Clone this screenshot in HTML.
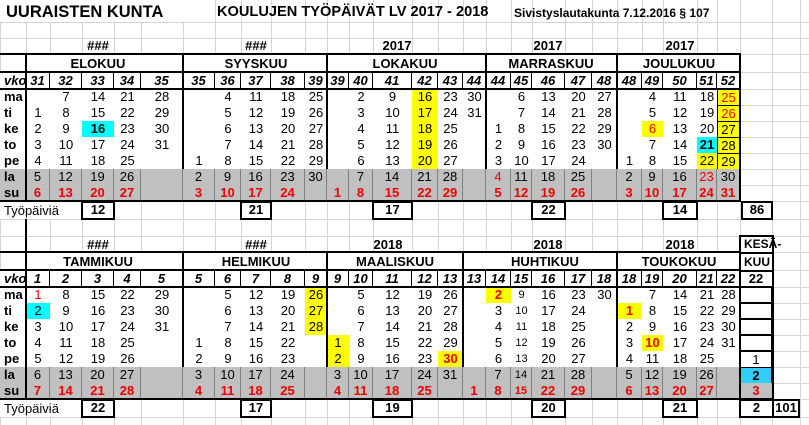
<!DOCTYPE html>
<html><head><meta charset="utf-8"><style>
body{margin:0;width:809px;height:425px;overflow:hidden;background:#fff;font-family:"Liberation Sans",Arial,sans-serif;position:relative}
.a{position:absolute}
.r{position:absolute;left:0;display:grid;grid-template-columns:26px 24px 32px 32px 27px 42px 32px 26px 30px 34px 22px 22px 24px 39px 26px 25px 23px 25px 21px 33px 27px 25px 25px 21px 34px 20px 23px 32px 28px;height:16px;line-height:16px;font-size:13px}
.r span{text-align:center;background:#fff;box-sizing:border-box}
.r span:first-child{text-align:left;padding-left:4px;font-weight:bold}
.r span:nth-child(28),.r span:nth-child(29){background:transparent}
.g span{background:#c0c0c0;border-right:1px solid #808080}
.g span:nth-child(28),.g span:nth-child(29){border:none}
.v{height:17px;line-height:17px;font-weight:bold;font-style:italic}
.v span{border-right:1px solid #000}
.v span:nth-child(28),.v span:nth-child(29){border:none}
.r .y{background:#ff0}.r .c{background:#0ff;font-weight:bold}.r .yb{background:#ff0;border:1px solid #000}
.rd{color:#e00}.b{font-weight:bold}.s{font-size:11px}
.su span{color:#e00;font-weight:bold}
.r .jb{background:#33ccff!important;border:1px solid #000!important}
.r .jw{background:#fff!important;border:1px solid #000}
.r .jg{background:#c0c0c0!important;border:1px solid #808080}
.h{position:absolute;width:140px;text-align:center;font-weight:bold;font-size:13px}
.k{position:absolute;border:2px solid #000;box-sizing:border-box;text-align:center;font-weight:bold;font-size:13px;line-height:14px;background:#fff}
.L{position:absolute;background:#000}
</style></head><body>
<svg class="a" style="left:0;top:0" width="809" height="425">
<g stroke="#d4d4d4" stroke-width="1">
<path d="M0.5 0V425M26.5 0V425M50.5 0V425M82.5 0V425M114.5 0V425M141.5 0V425M183.5 0V425M215.5 0V425M241.5 0V425M271.5 0V425M305.5 0V425M327.5 0V425M349.5 0V425M373.5 0V425M412.5 0V425M438.5 0V425M463.5 0V425M486.5 0V425M511.5 0V425M532.5 0V425M565.5 0V425M592.5 0V425M617.5 0V425M642.5 0V425M663.5 0V425M697.5 0V425M717.5 0V425M740.5 0V425M772.5 0V425M800.5 0V425"/>
<path d="M0 22.5H809M0 38.5H809M0 54.5H809M0 72.5H809M0 89.5H809M0 105.5H809M0 121.5H809M0 137.5H809M0 153.5H809M0 169.5H809M0 185.5H809M0 201.5H809M0 219.5H809M0 236.5H809M0 252.5H809M0 270.5H809M0 287.5H809M0 303.5H809M0 319.5H809M0 335.5H809M0 351.5H809M0 367.5H809M0 383.5H809M0 399.5H809M0 417.5H809"/>
</g></svg>
<div class="a" style="left:0;top:0;width:210px;height:22px;background:#fff"></div>
<div class="a" style="left:6px;top:3px;font-size:16.5px;font-weight:bold">UURAISTEN KUNTA</div>
<div class="a" style="left:217px;top:4px;font-size:14.6px;font-weight:bold">KOULUJEN TYÖPÄIVÄT LV 2017 - 2018</div>
<div class="a" style="left:514px;top:6px;font-size:12px;font-weight:bold">Sivistyslautakunta 7.12.2016 § 107</div>

<!-- TOP -->
<div class="h" style="left:28px;top:38px">###</div><div class="h" style="left:186px;top:38px">###</div><div class="h" style="left:327px;top:38px">2017</div><div class="h" style="left:478px;top:38px">2017</div><div class="h" style="left:610px;top:38px">2017</div>
<div class="a" style="left:26px;top:54px;width:714px;height:18px;background:#fff"></div>
<div class="h" style="left:28px;top:56px">ELOKUU</div><div class="h" style="left:186px;top:56px">SYYSKUU</div><div class="h" style="left:335px;top:56px">LOKAKUU</div><div class="h" style="left:481px;top:56px">MARRASKUU</div><div class="h" style="left:609px;top:56px">JOULUKUU</div>
<div class="r v" style="top:72px"><span>vko</span><span>31</span><span>32</span><span>33</span><span>34</span><span>35</span><span>35</span><span>36</span><span>37</span><span>38</span><span>39</span><span>39</span><span>40</span><span>41</span><span>42</span><span>43</span><span>44</span><span>44</span><span>45</span><span>46</span><span>47</span><span>48</span><span>48</span><span>49</span><span>50</span><span>51</span><span>52</span><span></span><span></span></div>
<div class="r" style="top:89px"><span>ma</span><span></span><span>7</span><span>14</span><span>21</span><span>28</span><span></span><span>4</span><span>11</span><span>18</span><span>25</span><span></span><span>2</span><span>9</span><span class="y">16</span><span>23</span><span>30</span><span></span><span>6</span><span>13</span><span>20</span><span>27</span><span></span><span>4</span><span>11</span><span>18</span><span class="yb rd">25</span><span></span><span></span></div>
<div class="r" style="top:105px"><span>ti</span><span>1</span><span>8</span><span>15</span><span>22</span><span>29</span><span></span><span>5</span><span>12</span><span>19</span><span>26</span><span></span><span>3</span><span>10</span><span class="y">17</span><span>24</span><span>31</span><span></span><span>7</span><span>14</span><span>21</span><span>28</span><span></span><span>5</span><span>12</span><span>19</span><span class="yb rd">26</span><span></span><span></span></div>
<div class="r" style="top:121px"><span>ke</span><span>2</span><span>9</span><span class="c">16</span><span>23</span><span>30</span><span></span><span>6</span><span>13</span><span>20</span><span>27</span><span></span><span>4</span><span>11</span><span class="y">18</span><span>25</span><span></span><span>1</span><span>8</span><span>15</span><span>22</span><span>29</span><span></span><span class="y rd">6</span><span>13</span><span>20</span><span class="yb">27</span><span></span><span></span></div>
<div class="r" style="top:137px"><span>to</span><span>3</span><span>10</span><span>17</span><span>24</span><span>31</span><span></span><span>7</span><span>14</span><span>21</span><span>28</span><span></span><span>5</span><span>12</span><span class="y">19</span><span>26</span><span></span><span>2</span><span>9</span><span>16</span><span>23</span><span>30</span><span></span><span>7</span><span>14</span><span class="c">21</span><span class="yb">28</span><span></span><span></span></div>
<div class="r" style="top:153px"><span>pe</span><span>4</span><span>11</span><span>18</span><span>25</span><span></span><span>1</span><span>8</span><span>15</span><span>22</span><span>29</span><span></span><span>6</span><span>13</span><span class="y">20</span><span>27</span><span></span><span>3</span><span>10</span><span>17</span><span>24</span><span></span><span>1</span><span>8</span><span>15</span><span class="y">22</span><span class="yb">29</span><span></span><span></span></div>
<div class="r g" style="top:169px"><span>la</span><span>5</span><span>12</span><span>19</span><span>26</span><span></span><span>2</span><span>9</span><span>16</span><span>23</span><span>30</span><span></span><span>7</span><span>14</span><span>21</span><span>28</span><span></span><span class="rd">4</span><span>11</span><span>18</span><span>25</span><span></span><span>2</span><span>9</span><span>16</span><span class="rd">23</span><span>30</span><span></span><span></span></div>
<div class="r g su" style="top:185px"><span style="color:#000">su</span><span>6</span><span>13</span><span>20</span><span>27</span><span></span><span>3</span><span>10</span><span>17</span><span>24</span><span></span><span>1</span><span>8</span><span>15</span><span>22</span><span>29</span><span></span><span>5</span><span>12</span><span>19</span><span>26</span><span></span><span>3</span><span>10</span><span>17</span><span>24</span><span>31</span><span></span><span></span></div>
<div class="a" style="left:0;top:202px;width:80px;height:17px;background:#fff"></div>
<div class="a" style="left:4px;top:203px;font-size:13px">Työpäiviä</div>
<div class="k" style="left:81px;top:201px;width:34px;height:19px">12</div>
<div class="k" style="left:240px;top:201px;width:32px;height:19px">21</div>
<div class="k" style="left:372px;top:201px;width:41px;height:19px">17</div>
<div class="k" style="left:531px;top:201px;width:35px;height:19px">22</div>
<div class="k" style="left:662px;top:201px;width:36px;height:19px">14</div>
<div class="k" style="left:741px;top:201px;width:32px;height:19px">86</div>
<div class="L" style="left:0;top:53px;width:741px;height:2px"></div>
<div class="L" style="left:0;top:71px;width:741px;height:2px"></div>
<div class="L" style="left:0;top:88px;width:741px;height:2px"></div>
<div class="L" style="left:0;top:200px;width:741px;height:2px"></div>
<div class="L" style="left:25px;top:53px;width:2px;height:148px"></div>
<div class="L" style="left:182px;top:53px;width:2px;height:116px"></div>
<div class="L" style="left:326px;top:53px;width:2px;height:116px"></div>
<div class="L" style="left:485px;top:53px;width:2px;height:116px"></div>
<div class="L" style="left:616px;top:53px;width:2px;height:116px"></div>
<div class="L" style="left:739px;top:53px;width:2px;height:148px"></div>

<!-- BOTTOM -->
<div class="L" style="left:25px;top:219px;width:2px;height:34px"></div>
<div class="h" style="left:28px;top:237px">###</div><div class="h" style="left:186px;top:237px">###</div><div class="h" style="left:318px;top:237px">2018</div><div class="h" style="left:478px;top:237px">2018</div><div class="h" style="left:610px;top:237px">2018</div>
<div class="a" style="left:26px;top:252px;width:714px;height:18px;background:#fff"></div>
<div class="h" style="left:28px;top:254px">TAMMIKUU</div><div class="h" style="left:186px;top:254px">HELMIKUU</div><div class="h" style="left:325px;top:254px">MAALISKUU</div><div class="h" style="left:475px;top:254px">HUHTIKUU</div><div class="h" style="left:609px;top:254px">TOUKOKUU</div>
<div class="k" style="left:739px;top:235px;width:35px;height:19px;text-align:left;padding-left:3px;font-size:12px">KESÄ-</div>
<div class="k" style="left:739px;top:252px;width:35px;height:20px;text-align:left;padding-left:3px;font-size:12px;line-height:16px">KUU</div>
<div class="r v" style="top:270px"><span>vko</span><span>1</span><span>2</span><span>3</span><span>4</span><span>5</span><span>5</span><span>6</span><span>7</span><span>8</span><span>9</span><span>9</span><span>10</span><span>11</span><span>12</span><span>13</span><span>13</span><span>14</span><span>15</span><span>16</span><span>17</span><span>18</span><span>18</span><span>19</span><span>20</span><span>21</span><span>22</span><span style="font-style:normal">22</span><span></span></div>
<div class="r" style="top:287px"><span>ma</span><span class="rd">1</span><span>8</span><span>15</span><span>22</span><span>29</span><span></span><span>5</span><span>12</span><span>19</span><span class="y">26</span><span></span><span>5</span><span>12</span><span>19</span><span>26</span><span></span><span class="y rd b">2</span><span class="s">9</span><span>16</span><span>23</span><span>30</span><span></span><span>7</span><span>14</span><span>21</span><span>28</span><span class="jw"></span><span></span></div>
<div class="r" style="top:303px"><span>ti</span><span style="background:#0ff">2</span><span>9</span><span>16</span><span>23</span><span>30</span><span></span><span>6</span><span>13</span><span>20</span><span class="y">27</span><span></span><span>6</span><span>13</span><span>20</span><span>27</span><span></span><span>3</span><span class="s">10</span><span>17</span><span>24</span><span></span><span class="y rd b">1</span><span>8</span><span>15</span><span>22</span><span>29</span><span class="jw"></span><span></span></div>
<div class="r" style="top:319px"><span>ke</span><span>3</span><span>10</span><span>17</span><span>24</span><span>31</span><span></span><span>7</span><span>14</span><span>21</span><span class="y">28</span><span></span><span>7</span><span>14</span><span>21</span><span>28</span><span></span><span>4</span><span class="s">11</span><span>18</span><span>25</span><span></span><span>2</span><span>9</span><span>16</span><span>23</span><span>30</span><span class="jw"></span><span></span></div>
<div class="r" style="top:335px"><span>to</span><span>4</span><span>11</span><span>18</span><span>25</span><span></span><span>1</span><span>8</span><span>15</span><span>22</span><span></span><span class="y">1</span><span>8</span><span>15</span><span>22</span><span>29</span><span></span><span>5</span><span class="s">12</span><span>19</span><span>26</span><span></span><span>3</span><span class="y rd b">10</span><span>17</span><span>24</span><span>31</span><span class="jw"></span><span></span></div>
<div class="r" style="top:351px"><span>pe</span><span>5</span><span>12</span><span>19</span><span>26</span><span></span><span>2</span><span>9</span><span>16</span><span>23</span><span></span><span class="y">2</span><span>9</span><span>16</span><span>23</span><span class="y rd b">30</span><span></span><span>6</span><span class="s">13</span><span>20</span><span>27</span><span></span><span>4</span><span>11</span><span>18</span><span>25</span><span></span><span class="jw">1</span><span></span></div>
<div class="r g" style="top:367px"><span>la</span><span>6</span><span>13</span><span>20</span><span>27</span><span></span><span>3</span><span>10</span><span>17</span><span>24</span><span></span><span>3</span><span>10</span><span>17</span><span>24</span><span>31</span><span></span><span>7</span><span class="s">14</span><span>21</span><span>28</span><span></span><span>5</span><span>12</span><span>19</span><span>26</span><span></span><span class="jb b">2</span><span></span></div>
<div class="r g su" style="top:383px"><span style="color:#000">su</span><span>7</span><span>14</span><span>21</span><span>28</span><span></span><span>4</span><span>11</span><span>18</span><span>25</span><span></span><span>4</span><span>11</span><span>18</span><span>25</span><span></span><span>1</span><span>8</span><span class="s">15</span><span>22</span><span>29</span><span></span><span>6</span><span>13</span><span>20</span><span>27</span><span></span><span class="jg">3</span><span></span></div>
<div class="a" style="left:0;top:400px;width:80px;height:17px;background:#fff"></div>
<div class="a" style="left:4px;top:401px;font-size:13px">Työpäiviä</div>
<div class="k" style="left:81px;top:399px;width:34px;height:19px">22</div>
<div class="k" style="left:240px;top:399px;width:32px;height:19px">17</div>
<div class="k" style="left:372px;top:399px;width:41px;height:19px">19</div>
<div class="k" style="left:531px;top:399px;width:35px;height:19px">20</div>
<div class="k" style="left:662px;top:399px;width:36px;height:19px">21</div>
<div class="k" style="left:739px;top:399px;width:35px;height:19px">2</div>
<div class="k" style="left:772px;top:399px;width:28px;height:19px">101</div>
<div class="L" style="left:0;top:251px;width:741px;height:2px"></div>
<div class="L" style="left:0;top:269px;width:741px;height:2px"></div>
<div class="L" style="left:0;top:286px;width:774px;height:2px"></div>
<div class="L" style="left:0;top:398px;width:774px;height:2px"></div>
<div class="L" style="left:25px;top:251px;width:2px;height:148px"></div>
<div class="L" style="left:182px;top:251px;width:2px;height:116px"></div>
<div class="L" style="left:326px;top:251px;width:2px;height:116px"></div>
<div class="L" style="left:462px;top:251px;width:2px;height:116px"></div>
<div class="L" style="left:616px;top:251px;width:2px;height:116px"></div>
<div class="L" style="left:739px;top:235px;width:2px;height:165px"></div>
<div class="L" style="left:772px;top:235px;width:2px;height:165px"></div>
</body></html>
